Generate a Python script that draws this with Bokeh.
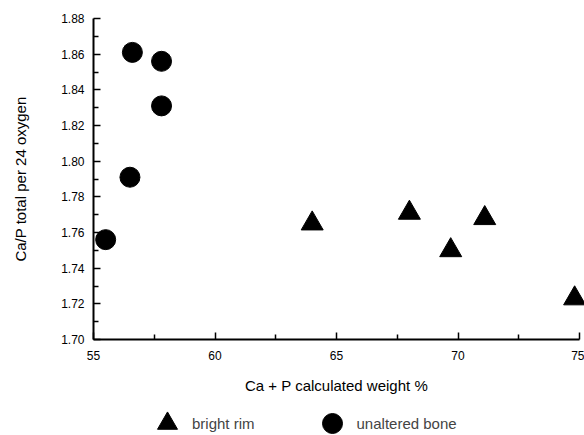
from bokeh.plotting import figure
from bokeh.models import FixedTicker, PrintfTickFormatter, Legend, LegendItem, Range1d
from bokeh.embed import file_html
from bokeh.resources import INLINE

# data
rim_x = [64.0, 68.0, 69.7, 71.1, 74.8]
rim_y = [1.765, 1.771, 1.750, 1.768, 1.723]
bone_x = [56.6, 57.8, 57.8, 56.5, 55.5]
bone_y = [1.861, 1.856, 1.831, 1.791, 1.756]

x_ticks = [55, 60, 65, 70, 75]
x_minor = [57.5, 62.5, 67.5, 72.5]
y_ticks = [1.70, 1.72, 1.74, 1.76, 1.78, 1.80, 1.82, 1.84, 1.86, 1.88]
y_minor = [1.71, 1.73, 1.75, 1.77, 1.79, 1.81, 1.83, 1.85, 1.87]
x_lo, x_hi = 55, 75
y_lo, y_hi = 1.70, 1.88

FONT = "Liberation Sans"

# The frame covers the whole page so that the legend and tick labels outside the
# axes are not clipped; the axes are pinned at x = 55 and y = 1.70.
WIDTH, HEIGHT = 584, 435
LEFT, RIGHT, TOP, BOTTOM = 93, 579, 18, 339
yscale = (BOTTOM - TOP) / (y_hi - y_lo)
xscale = (RIGHT - LEFT) / (x_hi - x_lo)
y_start = y_hi - (HEIGHT - TOP) / yscale
y_end = y_hi + TOP / yscale
x_start = x_lo - LEFT / xscale
x_end = x_hi + (WIDTH - RIGHT) / xscale

p = figure(width=WIDTH, height=HEIGHT, output_backend="svg", toolbar_location=None,
           x_range=Range1d(x_start, x_end), y_range=Range1d(y_start, y_end),
           min_border=0)
p.outline_line_color = None
p.grid.visible = False

for ax in (p.xaxis[0], p.yaxis[0]):
    ax.axis_line_width = 2
    ax.axis_line_color = "black"
    ax.major_tick_in = 7
    ax.major_tick_out = 0
    ax.minor_tick_in = 5
    ax.minor_tick_out = 0
    ax.major_tick_line_width = 1.5
    ax.minor_tick_line_width = 1.5
    ax.major_tick_line_color = "black"
    ax.minor_tick_line_color = "black"
    ax.major_label_text_font = FONT
    ax.major_label_text_font_size = "12px"
    ax.major_label_text_color = "black"
    ax.axis_label_text_font = FONT
    ax.axis_label_text_font_size = "15px"
    ax.axis_label_text_font_style = "normal"
    ax.axis_label_text_color = "black"

p.xaxis[0].fixed_location = y_lo
p.yaxis[0].fixed_location = x_lo
p.xaxis[0].bounds = (x_lo, x_hi)
p.yaxis[0].bounds = (y_lo, y_hi)
p.xaxis[0].ticker = FixedTicker(ticks=x_ticks, minor_ticks=x_minor)
p.yaxis[0].ticker = FixedTicker(ticks=y_ticks, minor_ticks=y_minor)
p.yaxis[0].formatter = PrintfTickFormatter(format="%.2f")
p.xaxis[0].axis_label = "Ca + P calculated weight %"
p.yaxis[0].axis_label = "Ca/P total per 24 oxygen"
p.xaxis[0].major_label_standoff = 11
p.xaxis[0].axis_label_standoff = 14
p.yaxis[0].major_label_standoff = 9
p.yaxis[0].axis_label_standoff = 29

r_rim = p.scatter(rim_x, rim_y, marker="triangle", size=22, color="black")
r_bone = p.scatter(bone_x, bone_y, marker="circle", size=20, color="black")

legend = Legend(items=[LegendItem(label="bright rim", renderers=[r_rim]),
                       LegendItem(label="unaltered bone", renderers=[r_bone])],
                orientation="horizontal", location=(142, -13),
                glyph_width=50, glyph_height=50, label_standoff=0,
                spacing=52, padding=0, margin=0,
                border_line_color=None, background_fill_alpha=0,
                label_text_font=FONT, label_text_font_size="15px")
p.add_layout(legend, "center")

open("out.html", "w").write(file_html(p, INLINE))
